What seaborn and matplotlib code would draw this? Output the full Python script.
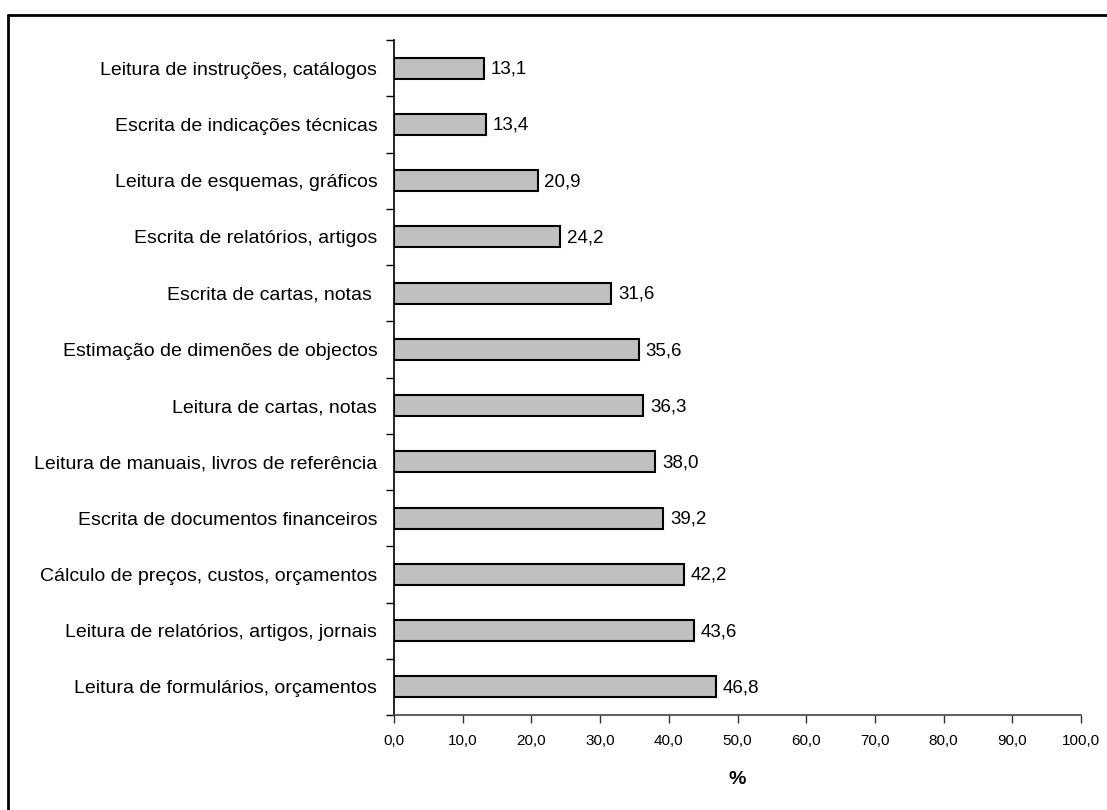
import matplotlib
matplotlib.use("Agg")
import matplotlib.pyplot as plt
from matplotlib.lines import Line2D
from matplotlib.ticker import FixedLocator, FuncFormatter
import seaborn as sns
import pandas as pd

categories = [
    "Leitura de instruções, catálogos",
    "Escrita de indicações técnicas",
    "Leitura de esquemas, gráficos",
    "Escrita de relatórios, artigos",
    "Escrita de cartas, notas ",
    "Estimação de dimenões de objectos",
    "Leitura de cartas, notas",
    "Leitura de manuais, livros de referência",
    "Escrita de documentos financeiros",
    "Cálculo de preços, custos, orçamentos",
    "Leitura de relatórios, artigos, jornais",
    "Leitura de formulários, orçamentos",
]
values = [13.1, 13.4, 20.9, 24.2, 31.6, 35.6, 36.3, 38.0, 39.2, 42.2, 43.6, 46.8]
x_ticks = [0, 10, 20, 30, 40, 50, 60, 70, 80, 90, 100]

sns.set_theme(style="white")
plt.rcParams["font.family"] = ["Liberation Sans", "DejaVu Sans"]
plt.rcParams["text.color"] = "black"
plt.rcParams["axes.labelcolor"] = "black"
plt.rcParams["xtick.color"] = "black"
plt.rcParams["ytick.color"] = "black"

df = pd.DataFrame({"categoria": categories, "valor": values})

fig = plt.figure(figsize=(11.07, 8.10), dpi=100)
ax = fig.add_axes([394 / 1107, 1 - 715 / 810, (1081 - 394) / 1107, (715 - 40) / 810])

sns.barplot(data=df, x="valor", y="categoria", orient="h", color="#c0c0c0",
            edgecolor="black", linewidth=1.5, width=0.37, saturation=1, ax=ax)

for bar, v in zip(ax.patches, values):
    ax.text(bar.get_width() + 1.0, bar.get_y() + bar.get_height() / 2 + 0.02,
            f"{v:.1f}".replace(".", ","), va="center", ha="left", fontsize=13.5,
            color="black")

n = len(categories)
ax.set_ylim(n - 0.5, -0.5)
ax.set_xlim(0, 100)

# category labels without marks; boundary marks between categories
ax.yaxis.set_minor_locator(FixedLocator([i - 0.5 for i in range(n + 1)]))
ax.tick_params(axis="y", which="major", length=0, pad=12, labelsize=14)
ax.tick_params(axis="y", which="minor", length=6, width=1, color="black", direction="out", left=True)

ax.set_xticks(x_ticks)
ax.xaxis.set_major_formatter(FuncFormatter(lambda x, p: f"{x:.1f}".replace(".", ",")))
ax.tick_params(axis="x", length=6, width=1, color="#333333", direction="out", bottom=True,
               labelsize=11, pad=8)

ax.set_ylabel("")
ax.set_xlabel("%", fontsize=14, fontweight="bold", labelpad=16)

for side in ("top", "right"):
    ax.spines[side].set_visible(False)
ax.spines["left"].set_color("black")
ax.spines["left"].set_linewidth(1.2)
ax.spines["bottom"].set_color("#444444")
ax.spines["bottom"].set_linewidth(1.2)
ax.grid(False)

# outer frame (top and left edges of the chart area)
fx = 7.5 / 1107
fy = 1 - 14.5 / 810
fig.add_artist(Line2D([fx, 1.01], [fy, fy], transform=fig.transFigure, color="black", lw=2))
fig.add_artist(Line2D([fx, fx], [-0.01, fy], transform=fig.transFigure, color="black", lw=2))

fig.savefig("out.png", dpi=100)
